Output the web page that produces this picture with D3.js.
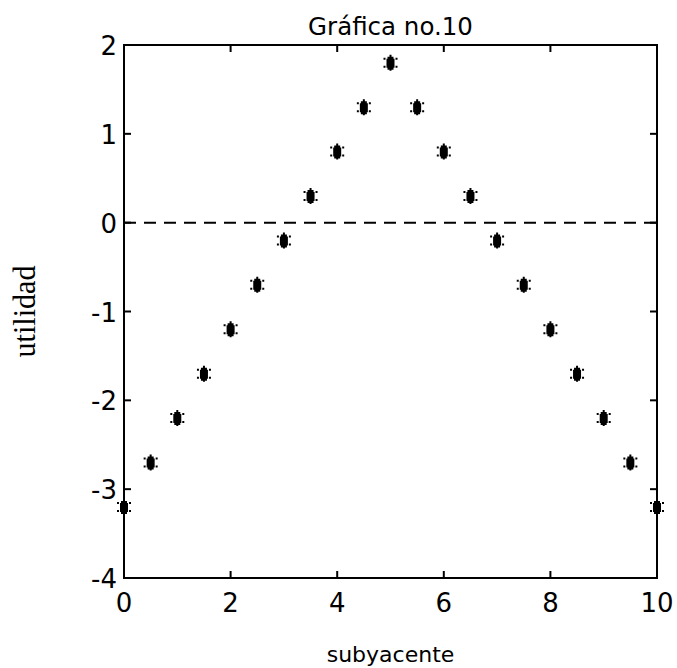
<!DOCTYPE html>
<html>
<head>
<meta charset="utf-8">
<script src="https://cdn.jsdelivr.net/npm/d3@7"></script>
<style>
  html, body { margin: 0; padding: 0; background: #fff; }
  svg { display: block; }
</style>
</head>
<body>
<svg id="chart" width="677" height="668"></svg>
<script>
// Utility sampled along the underlying variable
const xValues = [0, 0.5, 1, 1.5, 2, 2.5, 3, 3.5, 4, 4.5, 5, 5.5, 6, 6.5, 7, 7.5, 8, 8.5, 9, 9.5, 10];
const yValues = [-3.2, -2.7, -2.2, -1.7, -1.2, -0.7, -0.2, 0.3, 0.8, 1.3, 1.8, 1.3, 0.8, 0.3, -0.2, -0.7, -1.2, -1.7, -2.2, -2.7, -3.2];
const xTicks = [0, 2, 4, 6, 8, 10];
const yTicks = [2, 1, 0, -1, -2, -3, -4];
const titleText = "Gráfica no.10";
const xLabelText = "subyacente";
const yLabelText = "utilidad";

const svg = d3.select("#chart");
const plotLeft = 124, plotRight = 657, plotTop = 45, plotBottom = 578;
const x = d3.scaleLinear().domain([0, 10]).range([plotLeft, plotRight]);
const y = d3.scaleLinear().domain([-4, 2]).range([plotBottom, plotTop]);
const sansFont = "'DejaVu Sans', sans-serif";
const tickLen = 7;

// zero reference line
svg.append("line")
  .attr("x1", x(0)).attr("x2", x(10))
  .attr("y1", y(0)).attr("y2", y(0))
  .attr("stroke", "#000").attr("stroke-width", 2)
  .attr("stroke-dasharray", "12,8");

// frame
svg.append("rect")
  .attr("x", plotLeft).attr("y", plotTop)
  .attr("width", plotRight - plotLeft).attr("height", plotBottom - plotTop)
  .attr("fill", "none").attr("stroke", "#000").attr("stroke-width", 2);

// inward ticks on all four sides
const ticksG = svg.append("g").attr("stroke", "#000").attr("stroke-width", 2);
xTicks.forEach(t => {
  ticksG.append("line").attr("x1", x(t)).attr("x2", x(t)).attr("y1", plotBottom).attr("y2", plotBottom - tickLen);
  ticksG.append("line").attr("x1", x(t)).attr("x2", x(t)).attr("y1", plotTop).attr("y2", plotTop + tickLen);
});
yTicks.forEach(t => {
  ticksG.append("line").attr("x1", plotLeft).attr("x2", plotLeft + tickLen).attr("y1", y(t)).attr("y2", y(t));
  ticksG.append("line").attr("x1", plotRight).attr("x2", plotRight - tickLen).attr("y1", y(t)).attr("y2", y(t));
});

// tick labels
svg.append("g").selectAll("text").data(xTicks).join("text")
  .attr("x", d => x(d)).attr("y", plotBottom + 34)
  .attr("text-anchor", "middle")
  .attr("font-family", sansFont).attr("font-size", 26)
  .text(d => d);
svg.append("g").selectAll("text").data(yTicks).join("text")
  .attr("x", plotLeft - 7).attr("y", d => y(d) + 10)
  .attr("text-anchor", "end")
  .attr("font-family", sansFont).attr("font-size", 26)
  .text(d => String(d));

// star markers
const markerPath = [
  "M-1,-8h2v16h-2z",          // vertical stroke
  "M-4,-4h8v9h-8z",           // body
  "M-3,-6h6v13h-6z",
  "M-7,-5h2v2h-2z", "M5,-5h2v2h-2z",   // upper side dots
  "M-7,3h2v2h-2z", "M5,3h2v2h-2z"      // lower side dots
].join("");
svg.append("g").selectAll("path").data(xValues).join("path")
  .attr("transform", (d, i) => `translate(${x(d)},${y(yValues[i])})`)
  .attr("d", markerPath)
  .attr("fill", "#000");

// title and axis labels
svg.append("text")
  .attr("x", (plotLeft + plotRight) / 2).attr("y", 35)
  .attr("text-anchor", "middle")
  .attr("font-family", sansFont).attr("font-size", 24.5)
  .text(titleText);
svg.append("text")
  .attr("x", (plotLeft + plotRight) / 2).attr("y", 662)
  .attr("text-anchor", "middle")
  .attr("font-family", sansFont).attr("font-size", 22)
  .text(xLabelText);
svg.append("text")
  .attr("transform", `translate(35,${(plotTop + plotBottom) / 2}) rotate(-90)`)
  .attr("text-anchor", "middle")
  .attr("font-family", "'Liberation Serif', serif").attr("font-size", 32)
  .attr("textLength", 92).attr("lengthAdjust", "spacingAndGlyphs")
  .text(yLabelText);
</script>
</body>
</html>
